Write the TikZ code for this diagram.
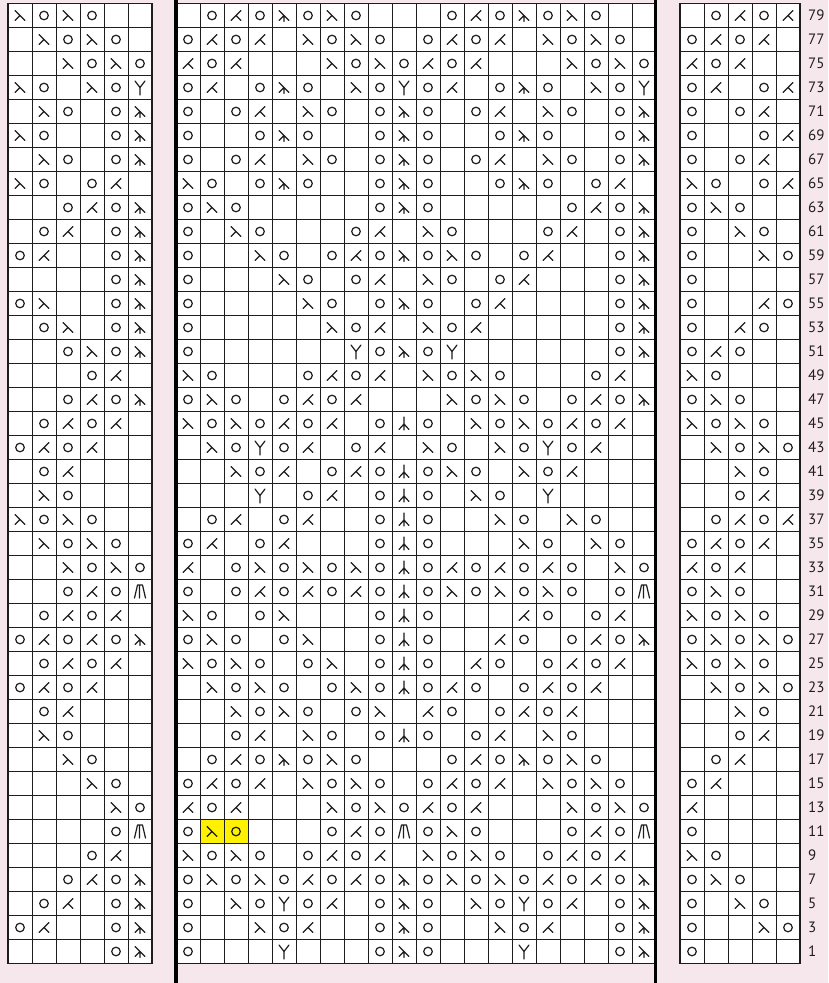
\documentclass[tikz,border=0pt]{standalone}
\usepackage{fontspec}
\setmainfont{PT Sans}
\definecolor{bgpink}{RGB}{246,231,236}
\definecolor{hlyellow}{RGB}{255,242,0}
\definecolor{inkc}{RGB}{30,28,29}
\tikzset{
  symb/.style={draw=inkc, line width=1.2pt, line cap=round, line join=round},
  gridline/.style={draw=inkc, line width=0.9pt},
  bordline/.style={draw=inkc, line width=1.2pt},
  thickbar/.style={draw=black, line width=3.6pt},
  rownum/.style={anchor=west, inner sep=0pt, text=inkc, font=\fontsize{15}{16}\selectfont}
}
\def\knitn{}
\def\knitO{\draw[symb] (0,0) circle[radius=4.3pt];}
\def\knits{\draw[symb] (-5,-5) -- (5,5) (0,0) -- (-5,5);}
\def\knitk{\draw[symb] (5,-5) -- (-5,5) (0,0) -- (5,5);}
\def\knitL{\draw[symb] (-5,-5) -- (5,5) (0,0) -- (-5,5) (0,0) -- (0,6);}
\def\knitC{\draw[symb] (0,-6.5) -- (0,6.5) (0,0.5) -- (-5,6) (0,0.5) -- (5,6);}
\def\knitY{\draw[symb] (-5,-6.5) -- (0,0) -- (5,-6.5) (0,0) -- (0,7.5);}
\def\knitM{\draw[symb] (-5.5,6.5) -- (-2.5,-6.5) -- (2.5,-6.5) -- (5.5,6.5) (-0.6,-6.5) -- (-0.6,6.5);}
\begin{document}
\begin{tikzpicture}[x=1pt,y=-1pt]
\useasboundingbox (0,0) rectangle (828,983);
\fill[bgpink] (0,0) rectangle (828,983);
% white chart areas
\fill[white] (8,3.5) rectangle (152,963.5);
\fill[white] (176,3.5) rectangle (656,963.5);
\fill[white] (680,3.5) rectangle (800,963.5);
% highlighted cells (row 11, stitches 2-3)
\fill[hlyellow] (200,819.5) rectangle (248,843.5);
% grid lines
\foreach \i in {0,...,6} {\draw[gridline] (8+24*\i,3.5) -- (8+24*\i,963.5);}
\foreach \i in {0,...,20} {\draw[gridline] (176+24*\i,3.5) -- (176+24*\i,963.5);}
\foreach \i in {0,...,5} {\draw[gridline] (680+24*\i,3.5) -- (680+24*\i,963.5);}
\foreach \j in {0,...,40} {
  \draw[gridline] (8,3.5+24*\j) -- (152,3.5+24*\j);
  \draw[gridline] (176,3.5+24*\j) -- (656,3.5+24*\j);
  \draw[gridline] (680,3.5+24*\j) -- (800,3.5+24*\j);
}
\draw[bordline] (8,3.5) rectangle (152,963.5);
\draw[bordline] (680,3.5) rectangle (800,963.5);
% repeat bars
\draw[thickbar] (176,0) -- (176,983);
\draw[thickbar] (655.5,0) -- (655.5,983);
% left panel
\foreach \n/\row in {
79/{s,O,s,O,n,n},77/{n,s,O,s,O,n},75/{n,n,s,O,s,O},73/{s,O,n,s,O,Y},
71/{n,s,O,n,O,L},69/{s,O,n,n,O,L},67/{n,s,O,n,O,L},65/{s,O,n,O,k,n},
63/{n,n,O,k,O,L},61/{n,O,k,n,O,L},59/{O,k,n,n,O,L},57/{n,n,n,n,O,L},
55/{O,s,n,n,O,L},53/{n,O,s,n,O,L},51/{n,n,O,s,O,L},49/{n,n,n,O,k,n},
47/{n,n,O,k,O,L},45/{n,O,k,O,k,n},43/{O,k,O,k,n,n},41/{n,O,k,n,n,n},
39/{n,s,O,n,n,n},37/{s,O,s,O,n,n},35/{n,s,O,s,O,n},33/{n,n,s,O,s,O},
31/{n,n,O,k,O,M},29/{n,O,k,O,k,n},27/{O,k,O,k,O,L},25/{n,O,k,O,k,n},
23/{O,k,O,k,n,n},21/{n,O,k,n,n,n},19/{n,s,O,n,n,n},17/{n,n,s,O,n,n},
15/{n,n,n,s,O,n},13/{n,n,n,n,s,O},11/{n,n,n,n,O,M},9/{n,n,n,O,k,n},
7/{n,n,O,k,O,L},5/{n,O,k,n,O,L},3/{O,k,n,n,O,L},1/{n,n,n,n,O,L}} {
  \pgfmathsetmacro\cy{3.5+24*((79-\n)/2+0.5)}
  \foreach \s [count=\c] in \row {
    \pgfmathsetmacro\cx{8+24*(\c-0.5)}
    \begin{scope}[shift={(\cx,\cy)}]\csname knit\s\endcsname\end{scope}
  }
}
% middle panel
\foreach \n/\row in {
79/{n,O,k,O,L,O,s,O,n,n,n,O,k,O,L,O,s,O,n,n},
77/{O,k,O,k,n,s,O,s,O,n,O,k,O,k,n,s,O,s,O,n},
75/{k,O,k,n,n,n,s,O,s,O,k,O,k,n,n,n,s,O,s,O},
73/{O,k,n,O,L,O,n,s,O,Y,O,k,n,O,L,O,n,s,O,Y},
71/{O,n,O,k,n,s,O,n,O,L,O,n,O,k,n,s,O,n,O,L},
69/{O,n,n,O,L,O,n,n,O,L,O,n,n,O,L,O,n,n,O,L},
67/{O,n,O,k,n,s,O,n,O,L,O,n,O,k,n,s,O,n,O,L},
65/{s,O,n,O,L,O,n,n,O,L,O,n,n,O,L,O,n,O,k,n},
63/{O,s,O,n,n,n,n,n,O,L,O,n,n,n,n,n,O,k,O,L},
61/{O,n,s,O,n,n,n,O,k,n,s,O,n,n,n,O,k,n,O,L},
59/{O,n,n,s,O,n,O,k,O,L,O,s,O,n,O,k,n,n,O,L},
57/{O,n,n,n,s,O,n,O,k,n,s,O,n,O,k,n,n,n,O,L},
55/{O,n,n,n,n,s,O,n,O,L,O,n,O,k,n,n,n,n,O,L},
53/{O,n,n,n,n,n,s,O,k,n,s,O,k,n,n,n,n,n,O,L},
51/{O,n,n,n,n,n,n,Y,O,L,O,Y,n,n,n,n,n,n,O,L},
49/{s,O,n,n,n,O,k,O,k,n,s,O,s,O,n,n,n,O,k,n},
47/{O,s,O,n,O,k,O,k,n,n,n,s,O,s,O,n,O,k,O,L},
45/{s,O,s,O,k,O,k,n,O,C,O,n,s,O,s,O,k,O,k,n},
43/{n,s,O,Y,O,k,n,O,k,n,s,O,n,s,O,Y,O,k,n,n},
41/{n,n,s,O,k,n,O,k,O,C,O,s,O,n,s,O,k,n,n,n},
39/{n,n,n,Y,n,O,k,n,O,C,O,n,s,O,n,Y,n,n,n,n},
37/{n,O,k,n,O,k,n,n,O,C,O,n,n,s,O,n,s,O,n,n},
35/{O,k,n,O,k,n,n,n,O,C,O,n,n,n,s,O,n,s,O,n},
33/{k,n,O,s,O,s,O,s,O,C,O,k,O,k,O,k,O,n,s,O},
31/{O,n,O,k,O,k,O,k,O,C,O,s,O,s,O,s,O,n,O,M},
29/{s,O,n,O,s,n,n,n,O,C,O,n,n,n,k,O,n,O,k,n},
27/{O,s,O,n,O,s,n,n,O,C,O,n,n,k,O,n,O,k,O,L},
25/{s,O,s,O,n,O,s,n,O,C,O,n,k,O,n,O,k,O,k,n},
23/{n,s,O,s,O,n,O,s,O,C,O,k,O,n,O,k,O,k,n,n},
21/{n,n,s,O,s,O,n,O,s,n,k,O,n,O,k,O,k,n,n,n},
19/{n,n,O,k,n,s,O,n,O,C,O,n,O,k,n,s,O,n,n,n},
17/{n,O,k,O,L,O,s,O,n,n,n,O,k,O,L,O,s,O,n,n},
15/{O,k,O,k,n,s,O,s,O,n,O,k,O,k,n,s,O,s,O,n},
13/{k,O,k,n,n,n,s,O,s,O,k,O,k,n,n,n,s,O,s,O},
11/{O,s,O,n,n,n,O,k,O,M,O,s,O,n,n,n,O,k,O,M},
9/{s,O,s,O,n,O,k,O,k,n,s,O,s,O,n,O,k,O,k,n},
7/{O,s,O,s,O,k,O,k,O,L,O,s,O,s,O,k,O,k,O,L},
5/{O,n,s,O,Y,O,k,n,O,L,O,n,s,O,Y,O,k,n,O,L},
3/{O,n,n,s,O,k,n,n,O,L,O,n,n,s,O,k,n,n,O,L},
1/{O,n,n,n,Y,n,n,n,O,L,O,n,n,n,Y,n,n,n,O,L}} {
  \pgfmathsetmacro\cy{3.5+24*((79-\n)/2+0.5)}
  \foreach \s [count=\c] in \row {
    \pgfmathsetmacro\cx{176+24*(\c-0.5)}
    \begin{scope}[shift={(\cx,\cy)}]\csname knit\s\endcsname\end{scope}
  }
}
% right panel with row numbers
\foreach \n/\row in {
79/{n,O,k,O,k},77/{O,k,O,k,n},75/{k,O,k,n,n},73/{O,k,n,O,k},
71/{O,n,O,k,n},69/{O,n,n,O,k},67/{O,n,O,k,n},65/{s,O,n,O,k},
63/{O,s,O,n,n},61/{O,n,s,O,n},59/{O,n,n,s,O},57/{O,n,n,n,n},
55/{O,n,n,k,O},53/{O,n,k,O,n},51/{O,k,O,n,n},49/{s,O,n,n,n},
47/{O,s,O,n,n},45/{s,O,s,O,n},43/{n,s,O,s,O},41/{n,n,s,O,n},
39/{n,n,O,k,n},37/{n,O,k,O,k},35/{O,k,O,k,n},33/{k,O,k,n,n},
31/{O,s,O,n,n},29/{s,O,s,O,n},27/{O,s,O,s,O},25/{s,O,s,O,n},
23/{n,s,O,s,O},21/{n,n,s,O,n},19/{n,n,O,k,n},17/{n,O,k,n,n},
15/{O,k,n,n,n},13/{k,n,n,n,n},11/{O,n,n,n,n},9/{s,O,n,n,n},
7/{O,s,O,n,n},5/{O,n,s,O,n},3/{O,n,n,s,O},1/{O,n,n,n,n}} {
  \pgfmathsetmacro\cy{3.5+24*((79-\n)/2+0.5)}
  \foreach \s [count=\c] in \row {
    \pgfmathsetmacro\cx{680+24*(\c-0.5)}
    \begin{scope}[shift={(\cx,\cy)}]\csname knit\s\endcsname\end{scope}
  }
  \node[rownum] (row\n) at (808,\cy) {\n};
}
\end{tikzpicture}
\end{document}
